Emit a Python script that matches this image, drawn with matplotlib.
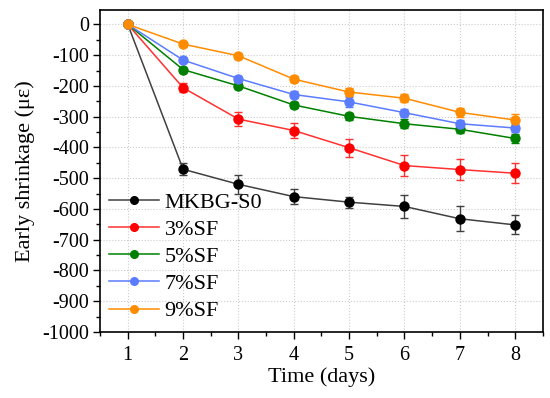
import matplotlib.pyplot as plt
from matplotlib.ticker import MultipleLocator
from matplotlib.lines import Line2D

plt.rcParams['font.family'] = ['Liberation Serif', 'DejaVu Serif']
plt.rcParams['axes.unicode_minus'] = False

days = [1, 2, 3, 4, 5, 6, 7, 8]

s0 = [0, -471, -520, -560, -578, -592, -632, -652]
s0_err = [0, 19, 30, 25, 18, 36, 41, 31]
sf3 = [0, -206, -308, -345, -401, -459, -472, -484]
sf3_err = [0, 15, 22, 24, 29, 33, 34, 33]
sf5 = [0, -147, -200, -262, -299, -323, -341, -371]
sf5_err = [0, 6, 8, 10, 12, 14, 13, 14]
sf7 = [0, -116, -176, -228, -252, -287, -323, -337]
sf7_err = [0, 6, 9, 11, 15, 13, 12, 13]
sf9 = [0, -64, -102, -178, -220, -240, -286, -311]
sf9_err = [0, 5, 6, 10, 12, 13, 15, 20]

labels = ["MKBG-S0", "3%SF", "5%SF", "7%SF", "9%SF"]
colors = ["#000000", "#ff0000", "#008000", "#5b7cff", "#ff8c00"]
line_colors = ["#404040", "#ff3030", "#008000", "#5b7cff", "#ff8c00"]

fig = plt.figure(figsize=(5.5, 3.98), dpi=100)
ax = fig.add_axes([0.182, 0.166, 0.805, 0.809])

series = [(s0, s0_err), (sf3, sf3_err), (sf5, sf5_err), (sf7, sf7_err), (sf9, sf9_err)]
handles = []
for (vals, err), lab, c, lc in zip(series, labels, colors, line_colors):
    ax.errorbar(days, vals, yerr=err, color=lc, ecolor=lc,
                marker='o', markersize=6.5, markerfacecolor=c, markeredgecolor=c,
                linewidth=1.1, elinewidth=1, capsize=3, capthick=1)
    handles.append(Line2D([], [], color=lc, marker='o', markersize=5.5,
                          markerfacecolor=c, markeredgecolor=c, linewidth=1.1, label=lab))

ax.set_xlim(0.5, 8.5)
ax.set_ylim(-1000, 47)
ax.xaxis.set_major_locator(MultipleLocator(1))
ax.xaxis.set_minor_locator(MultipleLocator(0.5))
ax.yaxis.set_major_locator(MultipleLocator(100))
ax.yaxis.set_minor_locator(MultipleLocator(50))
ax.tick_params(which='major', direction='out', length=5, width=1, labelsize=14.5, pad=3)
ax.tick_params(axis='x', which='major', pad=5)
ax.tick_params(which='minor', direction='out', length=3, width=1)
ax.grid(True, which='major', linestyle=':', color='#cccccc', linewidth=0.8)
for sp in ax.spines.values():
    sp.set_linewidth(1.2)

ax.set_xlabel("Time (days)", fontsize=16, labelpad=2)
ax.set_ylabel("Early shrinkage (με)", fontsize=16, labelpad=5)

ax.legend(handles=handles, loc='lower left', bbox_to_anchor=(0.0, 0.005), frameon=False,
          fontsize=16, handlelength=2.25, handletextpad=0.25, labelspacing=0.3,
          borderaxespad=0.0)

fig.savefig("out.png", dpi=100)
